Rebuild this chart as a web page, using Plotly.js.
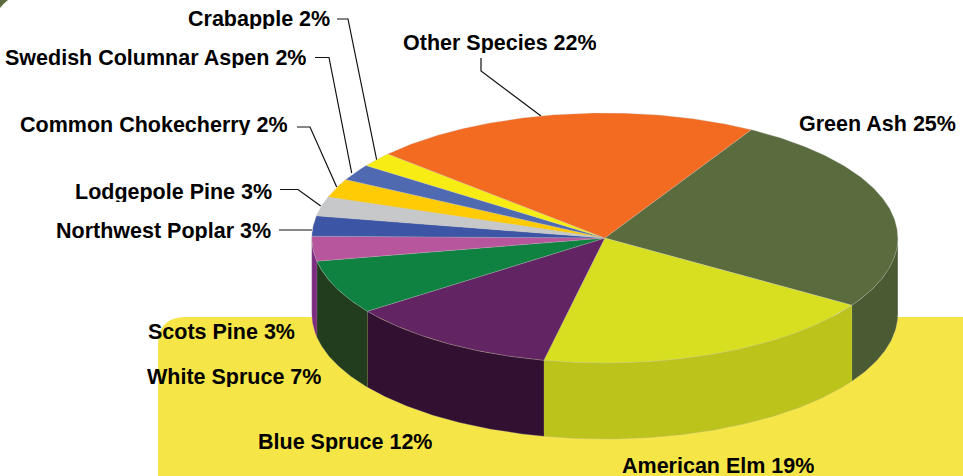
<!DOCTYPE html>
<html>
<head>
<meta charset="utf-8">
<script src="https://cdn.plot.ly/plotly-3.0.1.min.js"></script>
<style>html,body{margin:0;padding:0;background:#fff;overflow:hidden}#chart{width:963px;height:476px}</style>
</head>
<body>
<div id="chart"></div>
<script>
// --- data, clockwise from the Green Ash / Other Species boundary ---
const categories = ["Green Ash","American Elm","Blue Spruce","White Spruce","Scots Pine","Northwest Poplar","Lodgepole Pine","Common Chokecherry","Swedish Columnar Aspen","Crabapple","Other Species"];
const printedPercents = [25,19,12,7,3,3,3,2,2,2,22];
const measuredShares = [25.7,19.3,11.7,7.0,3.2,2.6,2.5,2.4,2.1,1.9,21.6];

// --- styles ---
const topColors  = ["#5A6B3E","#D7DF20","#632463","#0F8140","#B7559D","#3C55A5","#C7C8CA","#FFCB05","#4F6AB0","#F7EC13","#F36B21"];
const sideColors = ["#4A5A33","#BCC41C","#321032","#213D1E","#7B2C80","#2E4080","#9A9B9D","#C9A004","#3B5088","#C4BB0F","#B9501A"];

// --- pie geometry in plot units (the axes map 1:1 to pixels) ---
const cx = 604.8, cy = 238, rx = 293, ry = 125, depth = 76, startDeg = 60;

// label anchors: right edge and vertical centre
const labelX = [956,814,432,321,295,271,272,288,306,330,597];
const labelY = [123.5,466,441.5,376.5,331.5,230.5,191.5,124.5,57.5,18.5,42.5];
// leader paths
const leaders = [
  "M337,19 L348,19 L376.7,160",
  "M315,57.5 L329,57.5 L351.7,173",
  "M297,127 L310,127 L336.7,187",
  "M280,189.5 L298,189.5 L320.7,206",
  "M279,230 L312,230",
  "M481,58 L481,71 L541,116"
];

function arc(a0, a1, dy) {
  const xs = [], ys = [], n = Math.max(2, Math.ceil(Math.abs(a1 - a0) * 2));
  for (let i = 0; i <= n; i++) {
    const t = (a0 + (a1 - a0) * i / n) * Math.PI / 180;
    xs.push(cx + rx * Math.cos(t));
    ys.push(cy - ry * Math.sin(t) + dy);
  }
  return {xs, ys};
}

const total = measuredShares.reduce((a, b) => a + b, 0);
const walls = [], tops = [];
let cur = startDeg;
categories.forEach((name, i) => {
  const next = cur - measuredShares[i] / total * 360;
  // wall: only the part of the rim on the near side (angles 0 to -180)
  const w0 = Math.min(cur, 0), w1 = Math.max(next, -180);
  if (w0 > w1) {
    const a = arc(w0, w1, 0), b = arc(w1, w0, depth);
    walls.push({type:"scatter", mode:"lines", fill:"toself", fillcolor:sideColors[i],
      x:a.xs.concat(b.xs), y:a.ys.concat(b.ys), name:name,
      line:{color:"rgba(170,170,170,0.55)", width:0.5}, hoverinfo:"skip", showlegend:false});
  }
  const a = arc(cur, next, 0);
  tops.push({type:"scatter", mode:"lines", fill:"toself", fillcolor:topColors[i],
    x:[cx].concat(a.xs, [cx]), y:[cy].concat(a.ys, [cy]), name:name,
    line:{color:"rgba(190,190,190,0.55)", width:0.5}, hoverinfo:"skip", showlegend:false});
  cur = next;
});

const annotations = categories.map((name, i) => ({
  xref:"x", yref:"y", x:labelX[i], y:labelY[i], xanchor:"right", yanchor:"middle",
  borderpad:0, borderwidth:0, height:20,
  text:"<b>" + name + " " + printedPercents[i] + "%</b>", showarrow:false,
  font:{family:"Liberation Sans, Arial, sans-serif", size:21.5, color:"#000"}
}));

const shapes = [
  {type:"path", layer:"below", path:"M158,476 L158,345 Q158,317 186,317 L963,317 L963,476 Z",
   fillcolor:"#F5E546", line:{width:0}},
  {type:"path", layer:"below", path:"M0,0 L8,0 Q3,4 0,8 Z", fillcolor:"#5A6B3E", line:{width:0}}
].concat(leaders.map(p => ({type:"path", layer:"below", path:p, line:{color:"#111", width:1.2}})));

Plotly.newPlot("chart", walls.concat(tops), {
  width:963, height:476, margin:{l:0,r:0,t:0,b:0},
  paper_bgcolor:"#fff", plot_bgcolor:"rgba(0,0,0,0)", showlegend:false,
  xaxis:{range:[0,963], visible:false, fixedrange:true},
  yaxis:{range:[476,0], visible:false, fixedrange:true},
  shapes, annotations
}, {displayModeBar:false, staticPlot:true});
</script>
</body>
</html>
